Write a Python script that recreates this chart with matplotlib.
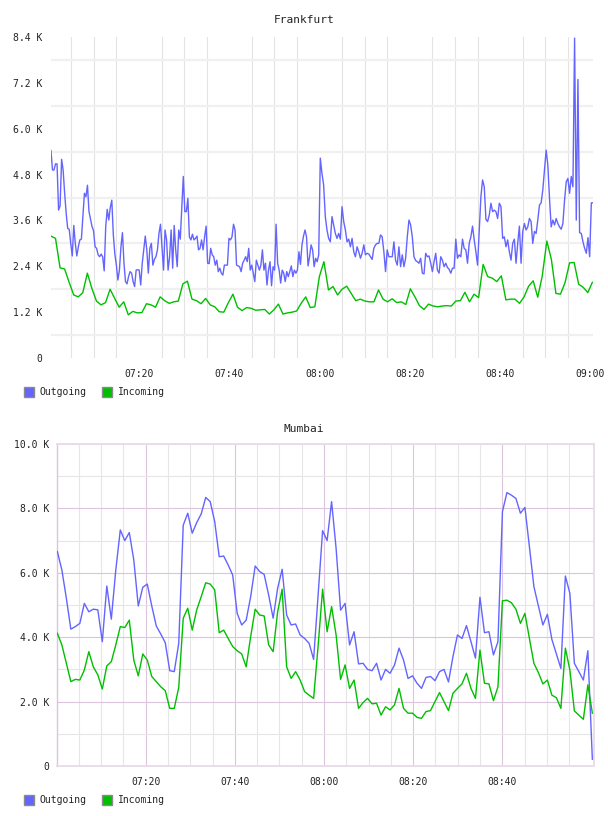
import numpy as np
import matplotlib
matplotlib.use("Agg")
import matplotlib.pyplot as plt
from matplotlib.patches import Rectangle
from matplotlib.ticker import FuncFormatter

plt.rcParams["font.family"] = ["DejaVu Sans Mono"]

W, H = 608, 816

# ---- Frankfurt (values in K, time in minutes after 07:00) ----
fra_out_a = [
    5.43, 4.92, 4.92, 5.08, 5.08, 3.87, 3.98, 5.20, 4.92, 4.31,
    3.79, 3.39, 3.37, 3.00, 2.67, 3.47, 3.00, 2.67, 2.91, 3.09,
    3.11, 3.70, 4.31, 4.22, 4.52, 3.83, 3.63, 3.44, 3.33, 2.91,
    2.87, 2.70, 2.65, 2.72, 2.65, 2.28, 3.44, 3.89, 3.61, 3.94,
    4.13, 3.22, 2.72, 2.43, 2.04, 2.30, 2.91, 3.28, 2.48, 2.00,
    1.94, 2.13, 2.26, 2.22, 2.00, 1.87, 2.30, 2.31, 2.30, 1.91,
    2.48, 2.83, 3.19, 2.83, 2.22, 2.87, 3.00, 2.43, 2.58, 2.65,
    2.83, 3.26, 3.50, 2.91, 2.30, 3.35, 3.09, 2.30, 2.65, 3.35,
    2.35, 3.47, 2.83, 2.39, 3.35, 3.11, 3.96, 4.75, 3.83, 3.83,
    4.18, 3.17, 3.09, 3.24, 3.09, 3.13, 3.19, 2.83, 2.87, 3.09,
    2.83, 3.17, 3.45, 2.48, 2.47, 2.87, 2.70, 2.65, 2.43, 2.56,
    2.26, 2.35, 2.22, 2.17, 2.43, 2.43, 2.43, 3.13, 3.09, 3.17,
    3.50, 3.35, 2.43, 2.41, 2.39, 2.26, 2.48, 2.56, 2.65, 2.52,
    2.87, 2.30, 2.43, 2.22, 2.00, 2.56, 2.43, 2.30, 2.43, 2.83,
    2.30, 2.48, 1.91, 2.30, 2.52, 1.89, 2.39, 2.30, 3.50, 2.48,
    2.30, 1.96, 2.30, 2.22, 2.00, 2.26, 2.13, 2.26, 2.41, 2.13,
    2.30, 2.22, 2.30, 2.78, 2.45, 2.96, 3.19, 3.35, 3.17, 2.41,
    2.65, 2.96, 2.83, 2.39, 2.61, 2.52, 2.70,
]
fra_out_b = [
    5.23, 4.83, 4.53, 3.70, 3.35, 3.13, 3.04, 3.70, 3.48, 3.26,
    3.13, 3.26, 3.11, 3.96, 3.57, 3.35, 3.04, 3.11, 2.91, 3.13,
    2.78, 2.65, 2.91, 2.78, 2.61, 2.74, 2.96, 2.70, 2.74, 2.72,
    2.65, 2.58, 2.87, 2.96, 3.00, 3.00, 3.22, 3.17, 2.78, 2.26,
    2.83, 2.65, 2.65, 2.65, 3.04, 2.56, 2.43, 2.91, 2.39, 2.70,
    2.39, 2.61, 3.17, 3.61, 3.48, 3.17, 2.65, 2.55, 2.52, 2.48,
    2.61, 2.22, 2.20, 2.74, 2.65, 2.67, 2.48, 2.26, 2.52, 2.74,
    2.30, 2.22, 2.65, 2.56, 2.39, 2.48, 2.37, 2.32, 2.22, 2.35,
    2.35, 3.11, 2.61, 2.70, 2.65, 3.11, 2.87, 2.83, 2.48, 3.00,
    3.17, 3.45, 3.09, 2.78, 2.43, 3.35, 4.22, 4.66, 4.48, 3.63,
    3.57, 3.74, 4.05, 3.83, 3.87, 3.83, 3.65, 4.05, 3.96, 3.13,
    3.17, 2.91, 3.09, 2.78, 2.56, 3.00, 3.11, 2.48, 3.00, 3.45,
    2.48, 3.31, 3.52, 3.35, 3.43, 3.65, 3.57, 3.00, 3.31, 3.26,
    3.61, 4.00, 4.06, 4.40, 4.92, 5.44, 5.05, 4.18, 3.43, 3.61,
    3.48, 3.65, 3.52, 3.43, 3.37, 3.52, 4.13, 4.61, 4.70, 4.31,
    4.75, 4.48, 8.37, 3.61, 7.29, 3.28, 3.26,
    3.04, 2.87, 2.74, 3.15, 2.65, 4.06, 4.06,
]
fra_in = [
    3.19, 3.13, 2.36, 2.33, 1.98, 1.65, 1.60, 1.71, 2.22, 1.82,
    1.49, 1.39, 1.45, 1.80, 1.56, 1.33, 1.47, 1.13, 1.22, 1.18,
    1.19, 1.42, 1.39, 1.33, 1.60, 1.50, 1.43, 1.47, 1.49, 1.94,
    2.01, 1.54, 1.50, 1.42, 1.56, 1.39, 1.34, 1.21, 1.20, 1.45,
    1.67, 1.33, 1.24, 1.32, 1.30, 1.25, 1.26, 1.27, 1.15, 1.26,
    1.41, 1.15, 1.18, 1.20, 1.23, 1.43, 1.60, 1.32, 1.34, 2.13,
    2.52, 1.78, 1.87, 1.65, 1.80, 1.88, 1.69, 1.50, 1.54, 1.49,
    1.47, 1.47, 1.78, 1.54, 1.47, 1.55, 1.45, 1.47, 1.40, 1.81,
    1.60, 1.37, 1.27, 1.41, 1.36, 1.34, 1.36, 1.37, 1.36, 1.49,
    1.50, 1.72, 1.47, 1.67, 1.58, 2.45, 2.13, 2.09, 2.00, 2.15,
    1.52, 1.54, 1.54, 1.43, 1.60, 1.88, 2.02, 1.59, 2.15, 3.06,
    2.58, 1.69, 1.67, 1.97, 2.49, 2.50, 1.93, 1.85, 1.71, 1.98,
]

# ---- Mumbai (one sample per minute) ----
mum_out = [
    6.66, 6.09, 5.21, 4.25, 4.33, 4.43, 5.05, 4.79, 4.87, 4.85,
    3.86, 5.59, 4.56, 6.09, 7.33, 7.00, 7.25, 6.40, 4.97, 5.55,
    5.65, 4.97, 4.35, 4.10, 3.83, 2.96, 2.93, 3.81, 7.48, 7.85,
    7.23, 7.56, 7.83, 8.34, 8.21, 7.59, 6.50, 6.52, 6.24, 5.93,
    4.74, 4.38, 4.53, 5.26, 6.21, 6.04, 5.95, 5.31, 4.59, 5.52,
    6.11, 4.69, 4.38, 4.41, 4.07, 3.96, 3.81, 3.31, 5.31, 7.31,
    7.00, 8.21, 6.76, 4.84, 5.05, 3.76, 4.17, 3.17, 3.19, 3.00,
    2.96, 3.19, 2.67, 3.00, 2.88, 3.14, 3.66, 3.29, 2.72, 2.80,
    2.57, 2.41, 2.75, 2.78, 2.65, 2.93, 3.00, 2.61, 3.40, 4.07,
    3.96, 4.36, 3.86, 3.35, 5.24, 4.14, 4.17, 3.45, 3.86, 7.90,
    8.49, 8.41, 8.31, 7.85, 8.03, 6.81, 5.57, 4.97, 4.38, 4.71,
    3.93, 3.48, 3.03, 5.90, 5.36, 3.19, 2.93, 2.67, 3.58, 0.21,
]
mum_in = [
    4.12, 3.76, 3.19, 2.62, 2.69, 2.67, 2.98, 3.55, 3.08, 2.83,
    2.39, 3.11, 3.24, 3.76, 4.33, 4.30, 4.53, 3.29, 2.80, 3.48,
    3.29, 2.78, 2.62, 2.46, 2.34, 1.79, 1.79, 2.44, 4.59, 4.90,
    4.22, 4.85, 5.26, 5.69, 5.65, 5.47, 4.14, 4.22, 3.96, 3.71,
    3.58, 3.48, 3.08, 4.02, 4.87, 4.69, 4.66, 3.76, 3.55, 4.79,
    5.49, 3.08, 2.72, 2.93, 2.67, 2.31, 2.20, 2.10, 3.73, 5.49,
    4.17, 4.95, 4.07, 2.69, 3.14, 2.41, 2.67, 1.79, 1.97, 2.10,
    1.93, 1.95, 1.58, 1.84, 1.74, 1.90, 2.41, 1.79, 1.64, 1.64,
    1.51, 1.48, 1.69, 1.72, 2.00, 2.28, 2.00, 1.72, 2.26, 2.41,
    2.55, 2.88, 2.41, 2.10, 3.60, 2.57, 2.55, 2.03, 2.46, 5.13,
    5.15, 5.07, 4.87, 4.43, 4.74, 3.96, 3.19, 2.90, 2.55, 2.67,
    2.20, 2.12, 1.79, 3.66, 2.98, 1.71, 1.58, 1.45, 2.52, 1.64,
]

# sample times (minutes after 07:00)
fra_t_out = np.concatenate([np.linspace(0.5, 59.8, len(fra_out_a)),
                            np.linspace(60.15, 120.55, len(fra_out_b))])
fra_t_in = np.linspace(0.5, 120.4, len(fra_in))
mum_t = np.linspace(0.17, 120.2, len(mum_out))

BLUE = "#6464ff"
GREEN = "#00bf00"
TXT = "#222222"


def hhmm(m, _pos=None):
    m = int(round(m))
    return f"{7 + m // 60:02d}:{m % 60:02d}"


def kfmt(v, _pos=None):
    return "0" if abs(v) < 1e-9 else f"{v:.1f} K"


def px_axes(fig, x0, y0, x1, y1):
    return fig.add_axes([x0 / W, 1 - y1 / H, (x1 - x0) / W, (y1 - y0) / H])


def legend(fig, ytop):
    for sx, tx, col, lab in [(24, 39, BLUE, "Outgoing"), (102, 118, GREEN, "Incoming")]:
        fig.add_artist(Rectangle((sx / W, 1 - (ytop + 10) / H), 10 / W, 10 / H,
                                 transform=fig.transFigure, facecolor=col,
                                 edgecolor="#8a8a8a", lw=1.0))
        fig.text(tx / W, 1 - (ytop + 5) / H, lab, fontsize=7, color=TXT,
                 ha="left", va="center")


fig = plt.figure(figsize=(W / 100, H / 100), dpi=100)

# ---------------- Frankfurt ----------------
ax = px_axes(fig, 51, 37, 593, 358)
ax.plot(fra_t_out, fra_out_a + fra_out_b, color=BLUE, lw=1.0, zorder=3)
ax.plot(fra_t_in, fra_in, color=GREEN, lw=1.0, zorder=3)
ax.set_xlim(0.51, 120.55)
ax.set_ylim(0, 8.4)
ax.set_xticks(np.arange(20, 121, 20))
ax.set_xticks(np.arange(5, 121, 5), minor=True)
ax.set_yticks(np.arange(0, 8.41, 1.2))
ax.set_yticks(np.arange(0.6, 8.4, 1.2), minor=True)
ax.xaxis.set_major_formatter(FuncFormatter(hhmm))
ax.yaxis.set_major_formatter(FuncFormatter(kfmt))
ax.grid(which="minor", axis="x", color="#e3e3e3", lw=0.8)
ax.grid(which="minor", axis="y", color="#f0f0f0", lw=1.6)
ax.tick_params(which="both", length=0, labelsize=7, colors=TXT)
ax.tick_params(axis="x", pad=8)
ax.tick_params(axis="y", pad=6)
for s in ax.spines.values():
    s.set_visible(False)
fig.text(0.5, 1 - 20 / H, "Frankfurt", fontsize=8, color=TXT, ha="center", va="center")
legend(fig, 387)

# ---------------- Mumbai ----------------
ax2 = px_axes(fig, 56.6, 444, 594, 766)
ax2.plot(mum_t, mum_out, color=BLUE, lw=1.0, zorder=3)
ax2.plot(mum_t, mum_in, color=GREEN, lw=1.0, zorder=3)
ax2.set_xlim(0, 120.57)
ax2.set_ylim(0, 10)
ax2.set_xticks(np.arange(20, 101, 20))
ax2.set_xticks(np.arange(5, 120, 5), minor=True)
ax2.set_yticks(np.arange(0, 10.1, 2))
ax2.set_yticks(np.arange(1, 10, 2), minor=True)
ax2.xaxis.set_major_formatter(FuncFormatter(hhmm))
ax2.yaxis.set_major_formatter(FuncFormatter(kfmt))
ax2.grid(which="minor", color="#e6e6e6", lw=0.8)
ax2.grid(which="major", color="#dcc4dc", lw=0.8)
ax2.set_axisbelow(True)
ax2.tick_params(which="both", length=0, labelsize=7, colors=TXT)
ax2.tick_params(axis="x", pad=8)
ax2.tick_params(axis="y", pad=5)
for s in ax2.spines.values():
    s.set_color("#eadcea")
    s.set_linewidth(1.4)
ax2.spines["left"].set_color("#dcc4dc")
ax2.spines["left"].set_linewidth(1.0)
fig.text(0.5, 1 - 429 / H, "Mumbai", fontsize=8, color=TXT, ha="center", va="center")
legend(fig, 795)

fig.savefig("out.png", dpi=100)
